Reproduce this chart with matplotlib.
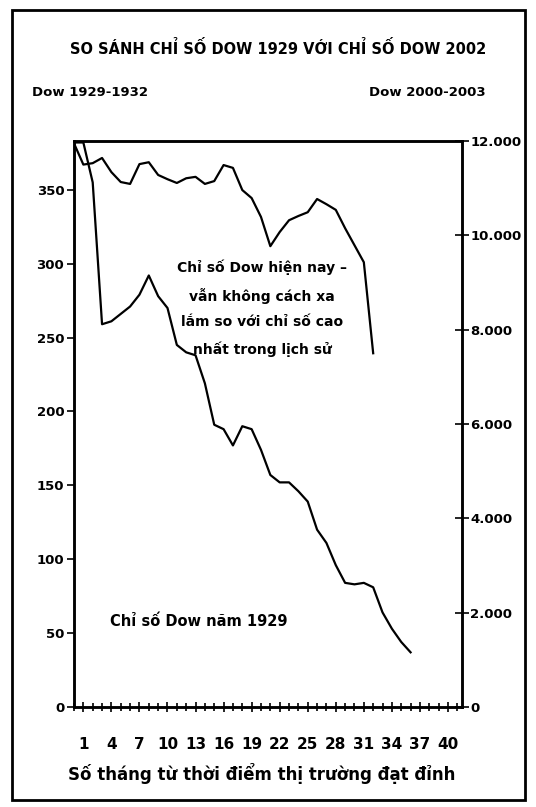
import matplotlib
matplotlib.use("Agg")
import matplotlib.pyplot as plt
from matplotlib.patches import Rectangle
from matplotlib.ticker import FixedLocator, FuncFormatter

plt.rcParams['font.family'] = ['DejaVu Sans']

# ---- data ----
months_1929 = list(range(0, 37))
dow_1929 = [382, 382, 355, 259, 261, 266, 271, 279, 292, 278, 270, 245, 240, 238,
            219, 191, 188, 177, 190, 188, 174, 157, 152, 152, 146, 139, 120, 111,
            96, 84, 83, 84, 81, 64, 53, 44, 37]

months_2000 = list(range(0, 33))
dow_2000 = [11950, 11500, 11530, 11640, 11340, 11130, 11090, 11510, 11550, 11280,
            11190, 11110, 11210, 11240, 11090, 11150, 11490, 11430, 10960, 10790,
            10390, 9770, 10070, 10320, 10410, 10490, 10770, 10660, 10540, 10150,
            9790, 9430, 7500]

x_tick_labels = [1, 4, 7, 10, 13, 16, 19, 22, 25, 28, 31, 34, 37, 40]
left_ticks = [0, 50, 100, 150, 200, 250, 300, 350]
right_ticks = [0, 2000, 4000, 6000, 8000, 10000, 12000]

title = "SO SÁNH CHỈ SỐ DOW 1929 VỚI CHỈ SỐ DOW 2002"
left_head = "Dow 1929-1932"
right_head = "Dow 2000-2003"
note_2000 = "Chỉ số Dow hiện nay –\nvẫn không cách xa\nlắm so với chỉ số cao\nnhất trong lịch sử"
note_1929 = "Chỉ số Dow năm 1929"
xlabel = "Số tháng từ thời điểm thị trường đạt đỉnh"

W, H = 536, 807
fig = plt.figure(figsize=(W / 100, H / 100), dpi=100)
fig.patch.set_facecolor("white")

def fx(px):
    return px / W

def fy(py):
    return 1 - py / H

ax = fig.add_axes([fx(74), fy(707), fx(462) - fx(74), fy(141) - fy(707)])
ax2 = ax.twinx()

ax.plot(months_1929, dow_1929, color="black", lw=1.6)
ax2.plot(months_2000, dow_2000, color="black", lw=1.6)

ax.set_xlim(0, 41.5)
ax.set_ylim(0, 383)
ax2.set_ylim(0, 12000)

for a in (ax, ax2):
    for s in a.spines.values():
        s.set_linewidth(1.8)
        s.set_color("black")

ax.xaxis.set_major_locator(FixedLocator(x_tick_labels))
ax.xaxis.set_minor_locator(FixedLocator(list(range(0, 42))))
ax.tick_params(axis="x", which="both", direction="inout", length=7, width=1.2,
               labelsize=11, pad=18)
ax.tick_params(axis="x", which="minor", length=6)
for t in ax.get_xticklabels():
    t.set_fontweight("bold")

ax.set_yticks(left_ticks)
ax.tick_params(axis="y", direction="out", length=5, width=1.2, labelsize=9.5, pad=2)
for t in ax.get_yticklabels():
    t.set_fontweight("bold")

ax2.set_yticks(right_ticks)
ax2.yaxis.set_major_formatter(FuncFormatter(lambda v, p: f"{int(v):,}".replace(",", ".")))
ax2.tick_params(axis="y", direction="inout", length=10, width=1.2, labelsize=9.5, pad=1)
for t in ax2.get_yticklabels():
    t.set_fontweight("bold")

fig.text(fx(278), fy(48), title, ha="center", va="center", fontsize=10.5, fontweight="bold")
fig.text(fx(32), fy(93), left_head, ha="left", va="center", fontsize=9.5, fontweight="bold")
fig.text(fx(486), fy(93), right_head, ha="right", va="center", fontsize=9.5, fontweight="bold")
fig.text(fx(262), fy(308), note_2000, ha="center", va="center", fontsize=10,
         fontweight="bold", linespacing=2.0)
fig.text(fx(110), fy(622), note_1929, ha="left", va="center", fontsize=10.5, fontweight="bold")
fig.text(fx(262), fy(773), xlabel, ha="center", va="center", fontsize=12, fontweight="bold")

fig.patches.append(Rectangle((fx(12), fy(800)), fx(525) - fx(12), fy(10) - fy(800),
                             transform=fig.transFigure, fill=False, lw=2, color="black"))

fig.savefig("out.png", dpi=100, facecolor="white")
